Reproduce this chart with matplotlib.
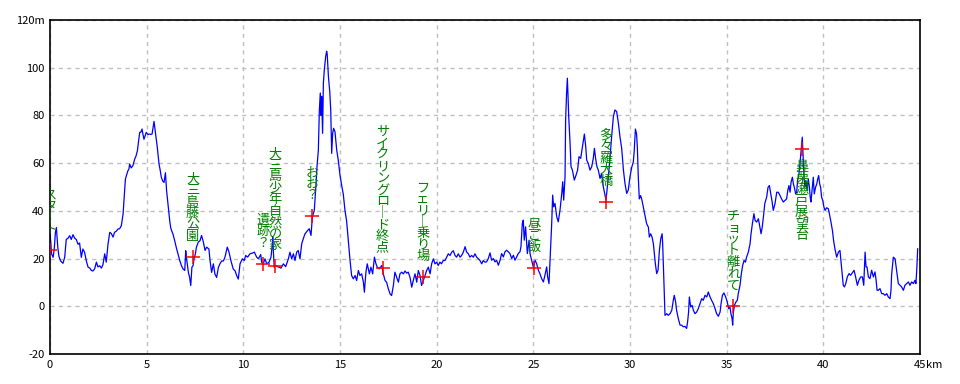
import numpy as np
import matplotlib
matplotlib.use('Agg')
import matplotlib.pyplot as plt
from matplotlib.transforms import offset_copy

plt.rcParams['font.family'] = ['Noto Sans CJK JP', 'DejaVu Sans']

# elevation profile (km, m)
dist = [0.0, 0.03, 0.08, 0.16, 0.22, 0.28, 0.33, 0.40, 0.46, 0.55, 0.67, 0.76, 0.84, 0.93, 1.02, 1.10, 1.19, 1.28, 1.36, 1.45,
        1.53, 1.62, 1.70, 1.79, 1.88, 1.97, 2.06, 2.14, 2.22, 2.31, 2.40, 2.48, 2.57, 2.66, 2.74, 2.83, 2.91, 3.0, 3.09, 3.17,
        3.26, 3.34, 3.43, 3.52, 3.60, 3.69, 3.78, 3.84, 3.90, 3.96, 4.03, 4.08, 4.12, 4.20, 4.29, 4.38, 4.45, 4.52, 4.58, 4.64,
        4.70, 4.76, 4.81, 4.86, 4.92, 4.98, 5.07, 5.16, 5.22, 5.28, 5.33, 5.38, 5.45, 5.55, 5.64, 5.70, 5.76, 5.83, 5.90, 5.97,
        6.03, 6.09, 6.14, 6.19, 6.24, 6.30, 6.36, 6.45, 6.53, 6.62, 6.71, 6.80, 6.88, 6.97, 7.02, 7.06, 7.10, 7.16, 7.22, 7.28,
        7.34, 7.40, 7.45, 7.52, 7.57,
        7.67, 7.76, 7.84, 7.93, 8.02, 8.10, 8.22, 8.28, 8.36, 8.45, 8.53, 8.62, 8.71, 8.79, 8.88, 8.97, 9.05, 9.17, 9.26, 9.36,
        9.48, 9.57, 9.66, 9.74, 9.83, 9.95, 10.05, 10.12, 10.22, 10.34, 10.47, 10.57, 10.69, 10.78, 10.90, 10.95, 11.03, 11.12,
        11.21, 11.33, 11.43, 11.50, 11.52, 11.56, 11.60, 11.70, 11.81, 11.95, 12.07, 12.19, 12.33, 12.41, 12.50, 12.59, 12.67,
        12.76, 12.84, 12.93, 13.02, 13.10, 13.19, 13.33, 13.41, 13.50, 13.57, 13.67, 13.74, 13.81, 13.88, 13.93, 13.98, 14.02,
        14.05, 14.10, 14.14, 14.19, 14.26, 14.31, 14.34, 14.40, 14.47, 14.52, 14.57, 14.62, 14.67, 14.74, 14.83, 14.91,
        15.0, 15.09, 15.17, 15.26, 15.34, 15.43, 15.52, 15.60, 15.69, 15.78, 15.86, 15.95, 16.03, 16.12, 16.21, 16.26, 16.34,
        16.41, 16.52, 16.60, 16.69, 16.78, 16.86, 16.93, 17.03, 17.16, 17.24, 17.33, 17.41, 17.50, 17.59, 17.67, 17.76, 17.84,
        17.93, 18.02, 18.10, 18.19, 18.28, 18.36, 18.45, 18.53, 18.62, 18.71, 18.79, 18.88, 18.97, 19.05, 19.14, 19.22, 19.31,
        19.40, 19.48, 19.57, 19.66, 19.74, 19.83, 19.91, 20.0, 20.08, 20.17, 20.25, 20.34, 20.43, 20.52, 20.60, 20.69, 20.78,
        20.86, 20.95, 21.03, 21.12, 21.21, 21.29, 21.38, 21.47, 21.55, 21.64, 21.72, 21.81, 21.90, 21.98, 22.07, 22.16, 22.24,
        22.33, 22.41, 22.50,
        22.58, 22.67, 22.76, 22.84, 22.93, 23.02, 23.10, 23.19, 23.28, 23.36, 23.45, 23.53, 23.62, 23.71, 23.79, 23.88, 23.97,
        24.05, 24.14, 24.22, 24.31, 24.36, 24.43, 24.48, 24.53, 24.60, 24.69, 24.78, 24.83, 24.91, 25.0, 25.09, 25.17, 25.26,
        25.34, 25.43, 25.52, 25.60, 25.69, 25.74, 25.81, 25.88, 25.95, 26.0, 26.05, 26.12, 26.21, 26.29, 26.38, 26.47, 26.52,
        26.57, 26.64, 26.67, 26.72, 26.76, 26.79, 26.83, 26.90, 26.95, 27.02, 27.12, 27.21, 27.29, 27.36, 27.45, 27.53, 27.64,
        27.71, 27.76, 27.84, 27.93, 28.02, 28.10, 28.16, 28.22, 28.29, 28.36, 28.45, 28.53, 28.62, 28.71, 28.76, 28.81, 28.88,
        28.97, 29.05, 29.14, 29.22, 29.31, 29.40, 29.48, 29.57, 29.66, 29.74, 29.83, 29.91, 30.0,
        30.09, 30.17, 30.22, 30.28, 30.34, 30.38, 30.43, 30.48, 30.55, 30.62, 30.69, 30.78, 30.86, 30.95, 31.0, 31.07, 31.14,
        31.21, 31.26, 31.31, 31.38, 31.45, 31.52, 31.59, 31.66, 31.69, 31.72, 31.76, 31.81, 31.90, 31.98, 32.07, 32.16, 32.24,
        32.29, 32.36, 32.41, 32.50, 32.59, 32.67, 32.76, 32.84, 32.93, 32.98, 33.03, 33.07, 33.14, 33.21, 33.28, 33.36, 33.45,
        33.53, 33.62, 33.71, 33.79, 33.88, 33.97, 34.05, 34.14, 34.22, 34.31, 34.40, 34.48, 34.57, 34.66, 34.71, 34.78, 34.86,
        34.95, 35.03, 35.10, 35.17, 35.22, 35.28, 35.31, 35.34, 35.40, 35.48, 35.55, 35.60, 35.69, 35.76, 35.83, 35.90, 35.97,
        36.03, 36.12, 36.21, 36.26, 36.33, 36.41, 36.47, 36.55, 36.64, 36.72, 36.78, 36.84, 36.90, 36.97, 37.02, 37.07, 37.14,
        37.21, 37.28, 37.34, 37.41, 37.50,
        37.59, 37.67, 37.76, 37.84, 37.93, 38.02, 38.10, 38.16, 38.22, 38.28, 38.33, 38.40, 38.45, 38.50, 38.57, 38.62, 38.67,
        38.74, 38.79, 38.84, 38.88, 38.91, 38.95, 39.0, 39.05, 39.10, 39.16, 39.22, 39.28, 39.33, 39.36, 39.43, 39.48, 39.53,
        39.60, 39.66, 39.71, 39.76, 39.81, 39.86, 39.91, 39.97, 40.03, 40.09, 40.17, 40.26, 40.31, 40.38, 40.47, 40.53, 40.60,
        40.69, 40.78, 40.86, 40.91, 40.97, 41.03, 41.09, 41.16, 41.24, 41.33, 41.41, 41.50, 41.59, 41.67, 41.76, 41.84, 41.93,
        42.02, 42.09, 42.16, 42.21, 42.26, 42.33, 42.41, 42.50, 42.59, 42.67, 42.72, 42.78, 42.84, 42.93, 43.02, 43.10, 43.19,
        43.28, 43.36, 43.45, 43.50, 43.53, 43.62, 43.71, 43.79, 43.88, 43.97, 44.05, 44.14, 44.22, 44.31, 44.40, 44.48, 44.57,
        44.66, 44.74, 44.79, 44.84, 44.88]
elev = [30, 28, 22, 20.5, 24, 31, 33, 25, 21, 19, 18, 20.5, 28, 28.5, 29.6, 28, 30, 28.5, 28, 26,
        26.5, 20.5, 24, 22.6, 19, 16.4, 16, 15, 14.8, 15.7, 18.5, 16.5, 17, 16, 17.5, 22, 18.5, 26, 31, 30.5,
        29, 31, 31.5, 32.4, 32.5, 33.8, 38.7, 46, 53.3, 55, 56.8, 57.5, 59.6, 58, 59, 61.7, 63, 65.2, 69, 72.9,
        73, 74.3, 72, 70, 71.5, 72.9, 72, 72.2, 72, 72.2, 75, 77.5, 73, 66.6, 59.6, 57, 54, 52.5, 51.9, 56,
        48.5, 44, 40, 36, 33, 31.5, 30.3, 27.5, 24.7, 22, 19.2, 17, 15.7, 15, 23.3, 20, 17.8, 14, 12.2, 8.7,
        16.4, 17, 19.9, 22, 24.7,
        26.9, 27.5, 29.7, 27, 23.4, 24.8, 24, 19, 14.2, 17.8, 13.5, 12.1, 16.3, 17.8, 19, 19, 20.6, 24.8, 22.7, 19,
        15.6, 14.9, 12.8, 11.4, 17.8, 19.9, 19.2, 21.3, 20.6, 22, 22.3, 22.7, 20.6, 19.9, 21.7, 18.5, 17.8, 19.9,
        17.8, 18.5, 20.6, 26, 29, 22, 16.3, 17, 16.5, 16, 17.8, 16.6, 19.9, 22.7, 19.9, 22, 19.2,
        22.7, 23.4, 19.9, 26.2, 28.3, 30.4, 31.8, 32.5, 29.7, 37.4, 40.2, 48.7, 58.5, 65.5, 81.7, 89.4, 80,
        88, 72.5, 93.6, 99.2, 104.8, 106.9, 105.5, 96.4, 90, 82.4, 64.1, 72.5, 74.6, 73.2, 65.5, 61.3,
        55, 50.5, 47, 40, 35.9, 27.5, 19.2, 12.9, 11.5, 12.9, 10.8, 15, 12.9, 13.6, 10.1, 5.9, 14.3,
        17.8, 13.6, 16.4, 13.6, 20.6, 17.8, 16.4, 15.7, 17.1, 13.6, 10.8, 10.1, 7.3, 5.2, 4.5, 8.7, 14.3,
        12.2, 10.1, 13.6, 14.3, 13.6, 14.8, 13.9, 14.3, 12.2, 8, 10.8, 13.6, 10.1, 15, 12.9, 8.7, 10.8,
        12.9, 15, 16.4, 13.6, 17.8, 19.9, 17.8, 18.5, 17.1, 18.5, 17.8, 19.2, 19.2, 20.6, 22, 21.3, 22.7,
        23.3, 21.3, 20.6, 22, 20.6, 21.3, 22.7, 25, 22.7, 22, 20.6, 21.3, 20.6, 22, 20.6, 19.9, 19.2,
        17.8, 19.2, 18.5,
        18.6, 20, 22.4, 19.3, 20, 18.6, 19.3, 17.2, 19.3, 22.1, 20.7, 22.8, 23.5, 22.8, 22.1, 20, 21.4,
        19.3, 20.7, 22.1, 22.8, 25, 34.7, 36.1, 27.7, 33.3, 22.1, 27.7, 22.1, 19.3, 16.5, 19.3, 17.9, 15.1,
        13.7, 11.6, 10.2, 13, 16.5, 12.3, 9.5, 22.1, 34.7, 46.6, 41.7, 43.1, 37.5, 35.4, 40.3, 47.3, 52.2,
        44.5, 54.3, 78.1, 89.3, 95.6, 89.3, 79.5, 68.3, 58.5, 57.1, 52.9, 55, 57.1, 62.7, 62, 66.2, 72.2,
        66.9, 61.3, 59.9, 57.1, 58.5, 62, 66.2, 62, 58.5, 57.1, 53.6, 55.7, 50.1, 46.6, 44.5, 48.7, 54.3,
        62.7, 71.1, 79.5, 82.3, 81.6, 76.7, 71.1, 66.2, 57.1, 51.5, 47.3, 48.7, 54.3,
        58.3, 60.4, 65.3, 74.3, 72.2, 66.7, 54.1, 45, 46.4, 44.4, 41.6, 38.1, 34.6, 33.2, 29, 30.4, 29,
        26.2, 21.9, 17.9, 13.7, 15.1, 23.4, 28.3, 30.4, 26.2, 19.2, 8.8, -3.8, -3.1, -3.8, -3.1, -1.7, 2.5,
        4.6, 1.8, -1.7, -5.2, -7.9, -7.9, -8.6, -8.4, -9.3, -6.5, -2.4, 3.9, -0.3, 0.4, -1.7, -3.1, -2.4,
        -1, 1.1, 3.2, 2.5, 4.6, 3.9, 6, 3.9, 2.5, 1.1, -1, -3.1, -4.2, -2.4, 1.1, 4.6, 5.6,
        3.9, 1.8, -1, -0.3, -3.1, -5.2, -7.9, -3.1, 0.4, 1.8, 2.5, 5.3, 8.8, 13.7, 17.2, 19.2, 18.5,
        20.6, 22.7, 26.2, 30.4, 34.6, 38.8, 36, 35.3, 36.7, 33.2, 30.4, 33.2, 37.4, 43, 44.4, 45.8, 49.9,
        50.6, 47.1, 44.4, 40.2, 43,
        47.8, 47.8, 46.4, 45, 43.7, 44.4, 45, 48.5, 50.6, 47.8, 52, 54.1, 51.3, 49.9, 47.1, 47.8, 52.7,
        55.5, 59.7, 64.6, 68.8, 70.9, 63.9, 54.1, 49.9, 52.7, 48.5, 53.4, 49.9, 45, 43.7, 49.9, 54.1, 47.1,
        49.9, 51.3, 53.4, 54.8, 51.3, 49.9, 45.7, 44.4, 41.6, 40.2, 41.3, 40.9, 38.8, 36, 31.8, 27.6, 24.1,
        20.6, 22.7, 23.4, 19.2, 13.7, 8.8, 8.1, 9.5, 12.3, 13.7, 13, 14, 15.1, 12.3, 8.8, 10.9, 12.3,
        12.3, 8.8, 22.7, 16.5, 16.5, 12.3, 11.6, 15.1, 12.3, 14.4, 11.6, 6.7, 6.7, 7.4, 5.3, 5.3, 4.6,
        5.3, 3.9, 3.2, 6.7, 13, 20.6, 19.9, 15.1, 9.5, 8.8, 8.1, 6.7, 8.8, 9.5, 10.2, 8.8, 10.2,
        9.5, 10.9, 9.5, 16.5, 24.1]

# way points
mark_km = [0.0, 7.38, 11.04, 11.64, 13.57, 17.2, 19.28, 25.04, 28.76, 35.35, 38.88]
mark_m = [23.5, 20.7, 17.9, 16.8, 37.7, 16.0, 12.2, 16.0, 43.9, 0.0, 66.1]
mark_names = ["スタート", "大三島藤公園", "遺跡？", "大三島少年自然の家", "おお？",
              "サイクリングロード終点", "フェリー乗り場", "昼ご飯", "多々羅大橋",
              "チョット離れて", "鼻栗瀬戸展望台"]

xticks = [0, 5, 10, 15, 20, 25, 30, 35, 40, 45]
yticks = [-20, 0, 20, 40, 60, 80, 100, 120]

fig = plt.figure(figsize=(9.6, 3.84), dpi=100)
ax = fig.add_axes([50/960, 30/384, 870/960, 334/384])
ax.set_xlim(0, 45)
ax.set_ylim(-20, 120)
ax.set_xticks(xticks)
ax.set_yticks(yticks)
ax.set_xticklabels([str(v) for v in xticks])
ax.set_yticklabels([str(v) + ('m' if v == 120 else '') for v in yticks])
ax.tick_params(length=0, labelsize=8, pad=4)
ax.grid(True, color='#c0c0c0', linestyle=(0, (3, 3)), linewidth=1)
for s in ax.spines.values():
    s.set_linewidth(1.2)

ax.text(1.0, 0, 'km', transform=offset_copy(ax.transAxes, fig=fig, x=4.5, y=-4, units='points'),
        ha='left', va='top', fontsize=8)

ax.plot(dist, elev, color='#0000ff', linewidth=0.9)
ax.plot(mark_km, mark_m, '+', color='red', markersize=10, markeredgewidth=1.1, zorder=4)

for i in range(len(mark_km)):
    name = mark_names[i].replace('ー', '｜')
    vtxt = '\n'.join(list(name))
    if i == len(mark_km) - 1:
        ax.annotate(vtxt, (mark_km[i], mark_m[i]), xytext=(0, -8.5), textcoords='offset points',
                    ha='center', va='top', color='#008000', fontsize=9.5, linespacing=0.85,
                    annotation_clip=True, clip_on=True)
    else:
        ax.annotate(vtxt, (mark_km[i], mark_m[i]), xytext=(0, 10), textcoords='offset points',
                    ha='center', va='bottom', color='#008000', fontsize=9.5, linespacing=0.85,
                    annotation_clip=True, clip_on=True)

fig.savefig('out.png', dpi=100)
